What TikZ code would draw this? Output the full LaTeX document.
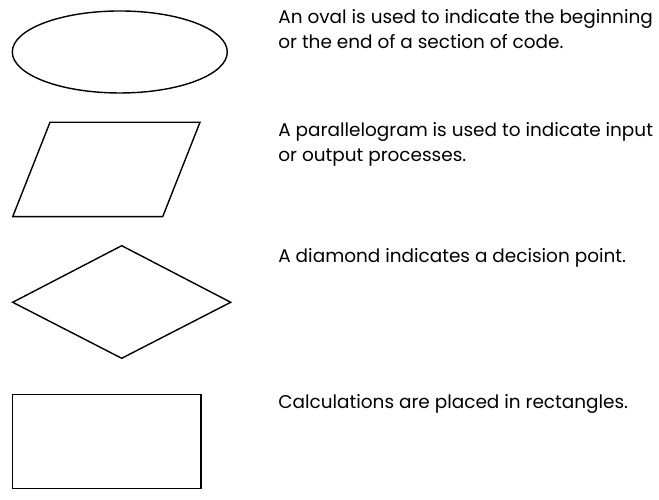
\documentclass[tikz,border=0pt]{standalone}
\usepackage{fontspec}
\setmainfont{Poppins}
\usepackage{tikz}
\usetikzlibrary{calc, positioning}

\begin{document}
\begin{tikzpicture}[line width=0.8pt,
    legendtext/.style={anchor=base west, align=left, inner sep=0pt,
        font=\fontsize{10.5}{14.2}\selectfont}]

    % frame of the picture
    \useasboundingbox (0,0) rectangle (13.18,10);

    % points of the shapes
    \coordinate (OvalCenter) at (2.396,8.96);

    \coordinate (PA) at (1.0,7.554);
    \coordinate (PB) at (4.0,7.554);
    \coordinate (PC) at (3.254,5.666);
    \coordinate (PD) at (0.254,5.666);

    \coordinate (DTop) at (2.434,5.086);
    \coordinate (DRight) at (4.614,3.954);
    \coordinate (DBottom) at (2.434,2.834);
    \coordinate (DLeft) at (0.254,3.954);

    \coordinate (RA) at (0.254,2.114);
    \coordinate (RB) at (4.02,0.226);

    % the four shapes
    \draw (OvalCenter) ellipse [x radius=2.15, y radius=0.82];
    \draw (PA) -- (PB) -- (PC) -- (PD) -- cycle;
    \draw (DTop) -- (DRight) -- (DBottom) -- (DLeft) -- cycle;
    \draw (RA) rectangle (RB);

    % the texts (base = baseline of the last line)
    \node[legendtext] (ovaltext) at (5.554,9.034)
        {An oval is used to indicate the beginning\\or the end of a section of code.};
    \node[legendtext] (paratext) at (5.554,6.766)
        {A parallelogram is used to indicate input\\or output processes.};
    \node[legendtext] (diamtext) at (5.554,4.746)
        {A diamond indicates a decision point.};
    \node[legendtext] (recttext) at (5.554,1.82)
        {Calculations are placed in rectangles.};

\end{tikzpicture}
\end{document}
